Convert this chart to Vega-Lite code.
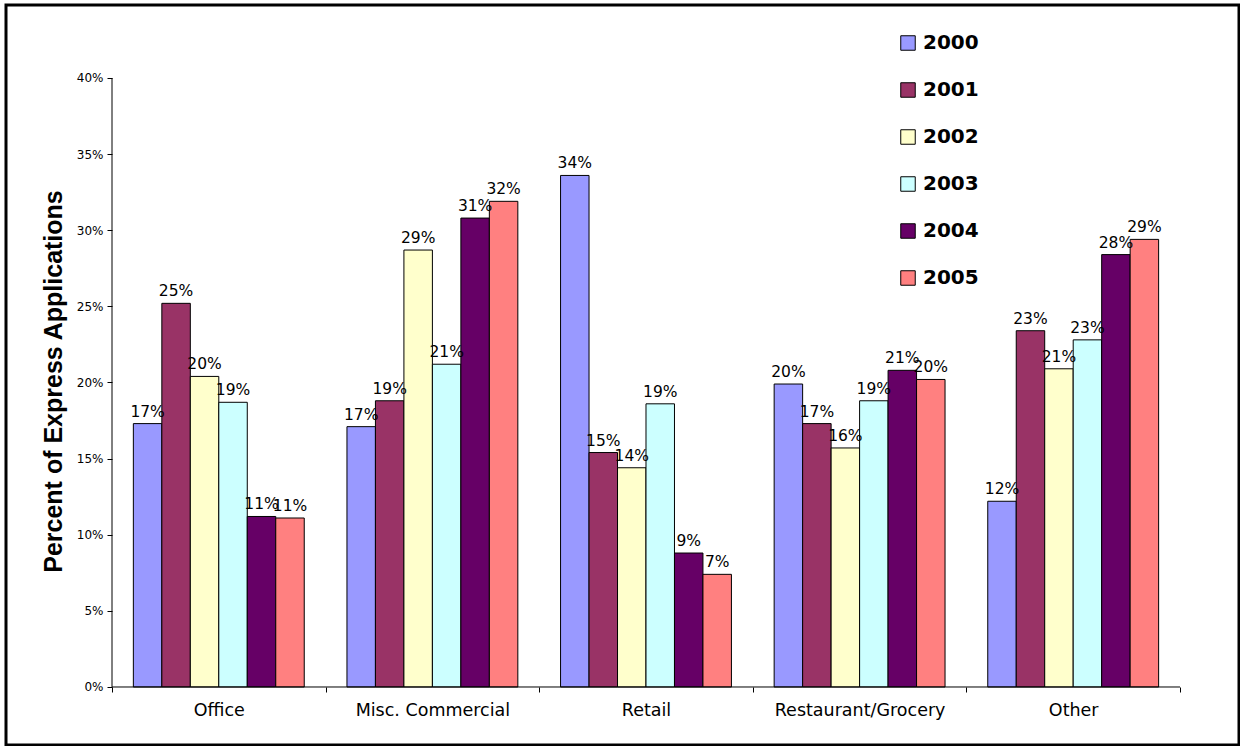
{
  "$schema": "https://vega.github.io/schema/vega-lite/v6.json",
  "autosize": {"type": "none"},
  "padding": {"left": 6, "top": 5, "right": 1, "bottom": 1},
  "width": 1233,
  "height": 740,
  "background": "white",
  "config": {
    "view": {"stroke": "black", "strokeWidth": 3},
    "font": "DejaVu Sans"
  },
  "data": {
    "values": [
      {"category": "Office", "year": "2000", "value": 0.173},
      {"category": "Office", "year": "2001", "value": 0.252},
      {"category": "Office", "year": "2002", "value": 0.204},
      {"category": "Office", "year": "2003", "value": 0.187},
      {"category": "Office", "year": "2004", "value": 0.112},
      {"category": "Office", "year": "2005", "value": 0.111},
      {"category": "Misc. Commercial", "year": "2000", "value": 0.171},
      {"category": "Misc. Commercial", "year": "2001", "value": 0.188},
      {"category": "Misc. Commercial", "year": "2002", "value": 0.287},
      {"category": "Misc. Commercial", "year": "2003", "value": 0.212},
      {"category": "Misc. Commercial", "year": "2004", "value": 0.308},
      {"category": "Misc. Commercial", "year": "2005", "value": 0.319},
      {"category": "Retail", "year": "2000", "value": 0.336},
      {"category": "Retail", "year": "2001", "value": 0.154},
      {"category": "Retail", "year": "2002", "value": 0.144},
      {"category": "Retail", "year": "2003", "value": 0.186},
      {"category": "Retail", "year": "2004", "value": 0.088},
      {"category": "Retail", "year": "2005", "value": 0.074},
      {"category": "Restaurant/Grocery", "year": "2000", "value": 0.199},
      {"category": "Restaurant/Grocery", "year": "2001", "value": 0.173},
      {"category": "Restaurant/Grocery", "year": "2002", "value": 0.157},
      {"category": "Restaurant/Grocery", "year": "2003", "value": 0.188},
      {"category": "Restaurant/Grocery", "year": "2004", "value": 0.208},
      {"category": "Restaurant/Grocery", "year": "2005", "value": 0.202},
      {"category": "Other", "year": "2000", "value": 0.122},
      {"category": "Other", "year": "2001", "value": 0.234},
      {"category": "Other", "year": "2002", "value": 0.209},
      {"category": "Other", "year": "2003", "value": 0.228},
      {"category": "Other", "year": "2004", "value": 0.284},
      {"category": "Other", "year": "2005", "value": 0.294}
    ]
  },
  "resolve": {"scale": {"x": "independent"}, "axis": {"x": "independent"}},
  "layer": [
    {
      "encoding": {
        "x": {
          "field": "category",
          "type": "nominal",
          "sort": ["Office", "Misc. Commercial", "Retail", "Restaurant/Grocery", "Other"],
          "scale": {"paddingInner": 0, "paddingOuter": 0.38624, "align": 0.6424},
          "axis": {
            "title": null,
            "orient": "bottom",
            "offset": -58,
            "domain": false,
            "ticks": true,
            "tickBand": "extent",
            "tickSize": 5,
            "tickColor": "black",
            "labelAngle": 0,
            "labelFont": "DejaVu Sans",
            "labelFontSize": 17.5,
            "labelColor": "black",
            "labelPadding": 9
          }
        },
        "xOffset": {
          "field": "year",
          "type": "nominal",
          "scale": {"paddingInner": 0, "paddingOuter": 0.75}
        },
        "y": {
          "field": "value",
          "type": "quantitative",
          "scale": {"domain": [-0.038096, 0.447947], "zero": false, "nice": false},
          "axis": {
            "title": "Percent of Express Applications",
            "orient": "left",
            "offset": -106,
            "domain": false,
            "grid": false,
            "values": [0, 0.05, 0.1, 0.15, 0.2, 0.25, 0.3, 0.35, 0.4],
            "format": ".0%",
            "tickSize": 5,
            "tickColor": "black",
            "labelFont": "DejaVu Sans",
            "labelFontSize": 12,
            "labelColor": "black",
            "labelPadding": 4,
            "titleFont": "Liberation Sans",
            "titleFontWeight": "bold",
            "titleFontSize": 25,
            "titleColor": "black",
            "titleX": -51,
            "titleY": 376,
            "titleAngle": -90,
            "titleAlign": "center",
            "titleBaseline": "alphabetic"
          }
        }
      },
      "layer": [
        {
          "mark": {"type": "bar", "stroke": "black", "strokeWidth": 1},
          "encoding": {
            "y2": {"datum": 0},
            "color": {
              "field": "year",
              "type": "nominal",
              "scale": {
                "domain": ["2000", "2001", "2002", "2003", "2004", "2005"],
                "range": ["#9999FF", "#993366", "#FFFFCC", "#CCFFFF", "#660066", "#FF8080"]
              },
              "legend": {
                "title": null,
                "orient": "none",
                "legendX": 892,
                "legendY": 28,
                "padding": 0,
                "symbolType": "square",
                "symbolSize": 210,
                "symbolStrokeColor": "black",
                "symbolStrokeWidth": 1,
                "symbolOpacity": 1,
                "labelFont": "DejaVu Sans",
                "labelFontWeight": "bold",
                "labelFontSize": 20,
                "labelColor": "black",
                "labelOffset": 5,
                "rowPadding": 27
              }
            }
          }
        },
        {
          "mark": {"type": "text", "baseline": "alphabetic", "dy": -7, "fontSize": 15.5, "font": "DejaVu Sans", "color": "black"},
          "encoding": {
            "text": {"field": "value", "type": "quantitative", "format": ".0%"}
          }
        }
      ]
    },
    {
      "data": {"values": [{}]},
      "layer": [
        {
          "mark": {"type": "rule", "color": "black", "strokeWidth": 1},
          "encoding": {
            "x": {
              "datum": 0,
              "type": "quantitative",
              "scale": {"domain": [-0.099251, 1.055243], "nice": false, "zero": false},
              "axis": null
            },
            "y": {"datum": 0},
            "y2": {"datum": 0.4}
          }
        },
        {
          "mark": {"type": "rule", "color": "black", "strokeWidth": 1},
          "encoding": {
            "x": {"datum": 0, "type": "quantitative"},
            "x2": {"datum": 1},
            "y": {"datum": 0}
          }
        }
      ]
    }
  ]
}
